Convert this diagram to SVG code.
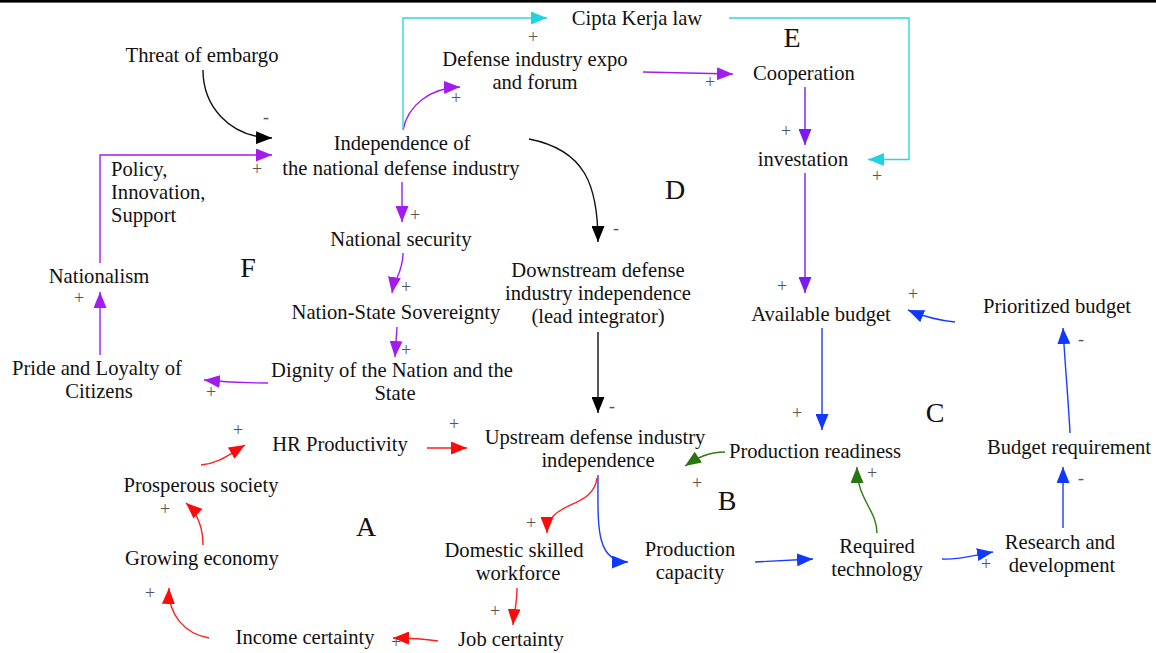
<svg xmlns="http://www.w3.org/2000/svg" width="1156" height="653" viewBox="0 0 1156 653" font-family="'Liberation Serif', 'Times New Roman', Times, 'DejaVu Serif', serif">
<style>
text{font-family:'Liberation Serif','Times New Roman',Times,'DejaVu Serif',serif;fill:#111}
.n{font-size:20.6px;text-anchor:middle}
.l{font-size:20.6px}
.big{font-size:28px;text-anchor:middle}
.s{font-size:18px;fill:#555;text-anchor:middle}
path{fill:none;stroke-width:1.4}
.k{stroke:#111}.p{stroke:#a21cf0}.v{stroke:#7a1bf2}.c{stroke:#2bd6e3}.r{stroke:#ff1f1f}.b{stroke:#1a3cff}.g{stroke:#2f7b15}
</style>
<defs>
<marker id="mk" markerUnits="userSpaceOnUse" markerWidth="16" markerHeight="13" refX="16" refY="6.5" orient="auto"><path d="M0,0L16,6.5L0,13z" style="fill:#000;stroke:none"/></marker>
<marker id="mp" markerUnits="userSpaceOnUse" markerWidth="16" markerHeight="13" refX="16" refY="6.5" orient="auto"><path d="M0,0L16,6.5L0,13z" style="fill:#a21cf0;stroke:none"/></marker>
<marker id="mv" markerUnits="userSpaceOnUse" markerWidth="16" markerHeight="13" refX="16" refY="6.5" orient="auto"><path d="M0,0L16,6.5L0,13z" style="fill:#7a1bf2;stroke:none"/></marker>
<marker id="mc" markerUnits="userSpaceOnUse" markerWidth="16" markerHeight="13" refX="16" refY="6.5" orient="auto"><path d="M0,0L16,6.5L0,13z" style="fill:#1fd3e0;stroke:none"/></marker>
<marker id="mr" markerUnits="userSpaceOnUse" markerWidth="16" markerHeight="13" refX="16" refY="6.5" orient="auto"><path d="M0,0L16,6.5L0,13z" style="fill:#ff0a0a;stroke:none"/></marker>
<marker id="mb" markerUnits="userSpaceOnUse" markerWidth="16" markerHeight="13" refX="16" refY="6.5" orient="auto"><path d="M0,0L16,6.5L0,13z" style="fill:#1238ff;stroke:none"/></marker>
<marker id="mg" markerUnits="userSpaceOnUse" markerWidth="16" markerHeight="13" refX="16" refY="6.5" orient="auto"><path d="M0,0L16,6.5L0,13z" style="fill:#2a7510;stroke:none"/></marker>
</defs>
<rect x="0" y="0" width="1156" height="653" fill="#fff"/>
<rect x="0" y="0" width="1156" height="2.6" fill="#000"/>

<g id="connectors">
<path class="k" d="M203,70 C203,105 228,137 272,138" marker-end="url(#mk)"/>
<path class="p" d="M100,263 L100,155 L272,155" marker-end="url(#mp)"/>
<path class="p" d="M100,355 L100,292" marker-end="url(#mp)"/>
<path class="p" d="M268,383 C245,383 225,382 204,380" marker-end="url(#mp)"/>
<path class="p" d="M402,182 L402,222" marker-end="url(#mp)"/>
<path class="p" d="M403,253 C403,272 394,280 392,293" marker-end="url(#mp)"/>
<path class="p" d="M397,327 L395,357" marker-end="url(#mp)"/>
<path class="p" d="M403,130 C408,105 430,88 460,87" marker-end="url(#mp)"/>
<path class="c" d="M403,130 L403,18 L547,18" marker-end="url(#mc)"/>
<path class="c" d="M729,18 L909,18 L909,159.5 L868,159.5" marker-end="url(#mc)"/>
<path class="p" d="M643,72 L733,74" marker-end="url(#mp)"/>
<path class="v" d="M805,87 L805,145" marker-end="url(#mv)"/>
<path class="v" d="M805,173 L805,293" marker-end="url(#mv)"/>
<path class="k" d="M529,139 C585,150 598,185 598,242" marker-end="url(#mk)"/>
<path class="k" d="M598,332 L598,413" marker-end="url(#mk)"/>
<path class="b" d="M955,322 C935,320 920,315 908,310" marker-end="url(#mb)"/>
<path class="b" d="M822,328 L822,430" marker-end="url(#mb)"/>
<path class="g" d="M725,452 C708,452 697,458 685,466" marker-end="url(#mg)"/>
<path class="g" d="M877,533 C877,510 857,500 857,467" marker-end="url(#mg)"/>
<path class="b" d="M598,475 C598,525 595,562 628,562" marker-end="url(#mb)"/>
<path class="r" d="M597,478 C593,510 547,500 547,533" marker-end="url(#mr)"/>
<path class="r" d="M517,588 C517,605 514,612 513,625" marker-end="url(#mr)"/>
<path class="r" d="M438,641 C425,639 410,638 393,638" marker-end="url(#mr)"/>
<path class="r" d="M209,638 C185,634 168,615 169,588" marker-end="url(#mr)"/>
<path class="r" d="M203,545 C203,525 196,512 186,503" marker-end="url(#mr)"/>
<path class="r" d="M201,465 C220,463 228,455 245,445" marker-end="url(#mr)"/>
<path class="r" d="M427,448 L467,448" marker-end="url(#mr)"/>
<path class="b" d="M755,562 L813,559" marker-end="url(#mb)"/>
<path class="b" d="M942,559 C960,560 975,555 993,552" marker-end="url(#mb)"/>
<path class="b" d="M1063,528 L1063,467" marker-end="url(#mb)"/>
<path class="b" d="M1070,433 C1068,395 1065,365 1063,328" marker-end="url(#mb)"/>
</g>

<g id="signs">
<text class="s" x="266" y="123">-</text>
<text class="s" x="257" y="175">+</text>
<text class="s" x="79" y="304">+</text>
<text class="s" x="211" y="398">+</text>
<text class="s" x="415" y="221">+</text>
<text class="s" x="406" y="293">+</text>
<text class="s" x="406" y="356">+</text>
<text class="s" x="456" y="104">+</text>
<text class="s" x="533" y="43">+</text>
<text class="s" x="877" y="182">+</text>
<text class="s" x="710" y="88">+</text>
<text class="s" x="786" y="137">+</text>
<text class="s" x="782" y="292">+</text>
<text class="s" x="616" y="234">-</text>
<text class="s" x="612" y="412">-</text>
<text class="s" x="913" y="300">+</text>
<text class="s" x="797" y="419">+</text>
<text class="s" x="697" y="489">+</text>
<text class="s" x="872" y="479">+</text>
<text class="s" x="531" y="529">+</text>
<text class="s" x="495" y="617">+</text>
<text class="s" x="396" y="648">+</text>
<text class="s" x="150" y="599">+</text>
<text class="s" x="165" y="515">+</text>
<text class="s" x="238" y="436">+</text>
<text class="s" x="454" y="430">+</text>
<text class="s" x="986" y="570">+</text>
<text class="s" x="1081" y="484">-</text>
<text class="s" x="1081" y="345">-</text>
</g>

<g id="loop-labels">
<text class="big" x="792" y="47">E</text>
<text class="big" x="675" y="199">D</text>
<text class="big" x="248" y="277">F</text>
<text class="big" x="935" y="422">C</text>
<text class="big" x="727" y="510">B</text>
<text class="big" x="366" y="536">A</text>
</g>

<g id="threat"><text class="n" x="202" y="62">Threat of embargo</text></g>
<g id="cipta"><text class="n" x="637" y="25">Cipta Kerja law</text></g>
<g id="expo"><text class="n" x="535" y="66">Defense industry expo</text><text class="n" x="535" y="89">and forum</text></g>
<g id="cooperation"><text class="n" x="804" y="80">Cooperation</text></g>
<g id="investation"><text class="n" x="803" y="166">investation</text></g>
<g id="independence"><text class="n" x="402" y="150">Independence of</text><text class="n" x="401" y="175">the national defense industry</text></g>
<g id="policy"><text class="l" x="111" y="176">Policy,</text><text class="l" x="111" y="199">Innovation,</text><text class="l" x="111" y="222">Support</text></g>
<g id="security"><text class="n" x="401" y="246">National security</text></g>
<g id="nationalism"><text class="n" x="99" y="283">Nationalism</text></g>
<g id="sovereignty"><text class="n" x="396" y="319">Nation-State Sovereignty</text></g>
<g id="dignity"><text class="n" x="392" y="377">Dignity of the Nation and the</text><text class="n" x="395" y="400">State</text></g>
<g id="pride"><text class="n" x="97" y="375">Pride and Loyalty of</text><text class="n" x="99" y="398">Citizens</text></g>
<g id="downstream"><text class="n" x="598" y="277">Downstream defense</text><text class="n" x="598" y="300">industry independence</text><text class="n" x="598" y="323">(lead integrator)</text></g>
<g id="available"><text class="n" x="821" y="321">Available budget</text></g>
<g id="prioritized"><text class="n" x="1057" y="313">Prioritized budget</text></g>
<g id="hr"><text class="n" x="340" y="451">HR Productivity</text></g>
<g id="upstream"><text class="n" x="595" y="444">Upstream defense industry</text><text class="n" x="598" y="467">independence</text></g>
<g id="readiness"><text class="n" x="815" y="458">Production readiness</text></g>
<g id="budgetreq"><text class="n" x="1069" y="454">Budget requirement</text></g>
<g id="prosperous"><text class="n" x="201" y="492">Prosperous society</text></g>
<g id="domestic"><text class="n" x="514" y="557">Domestic skilled</text><text class="n" x="518" y="580">workforce</text></g>
<g id="capacity"><text class="n" x="690" y="556">Production</text><text class="n" x="690" y="579">capacity</text></g>
<g id="technology"><text class="n" x="877" y="553">Required</text><text class="n" x="877" y="576">technology</text></g>
<g id="rnd"><text class="n" x="1060" y="549">Research and</text><text class="n" x="1062" y="572">development</text></g>
<g id="growing"><text class="n" x="202" y="565">Growing economy</text></g>
<g id="income"><text class="n" x="305" y="644">Income certainty</text></g>
<g id="job"><text class="n" x="511" y="646">Job certainty</text></g>
</svg>
